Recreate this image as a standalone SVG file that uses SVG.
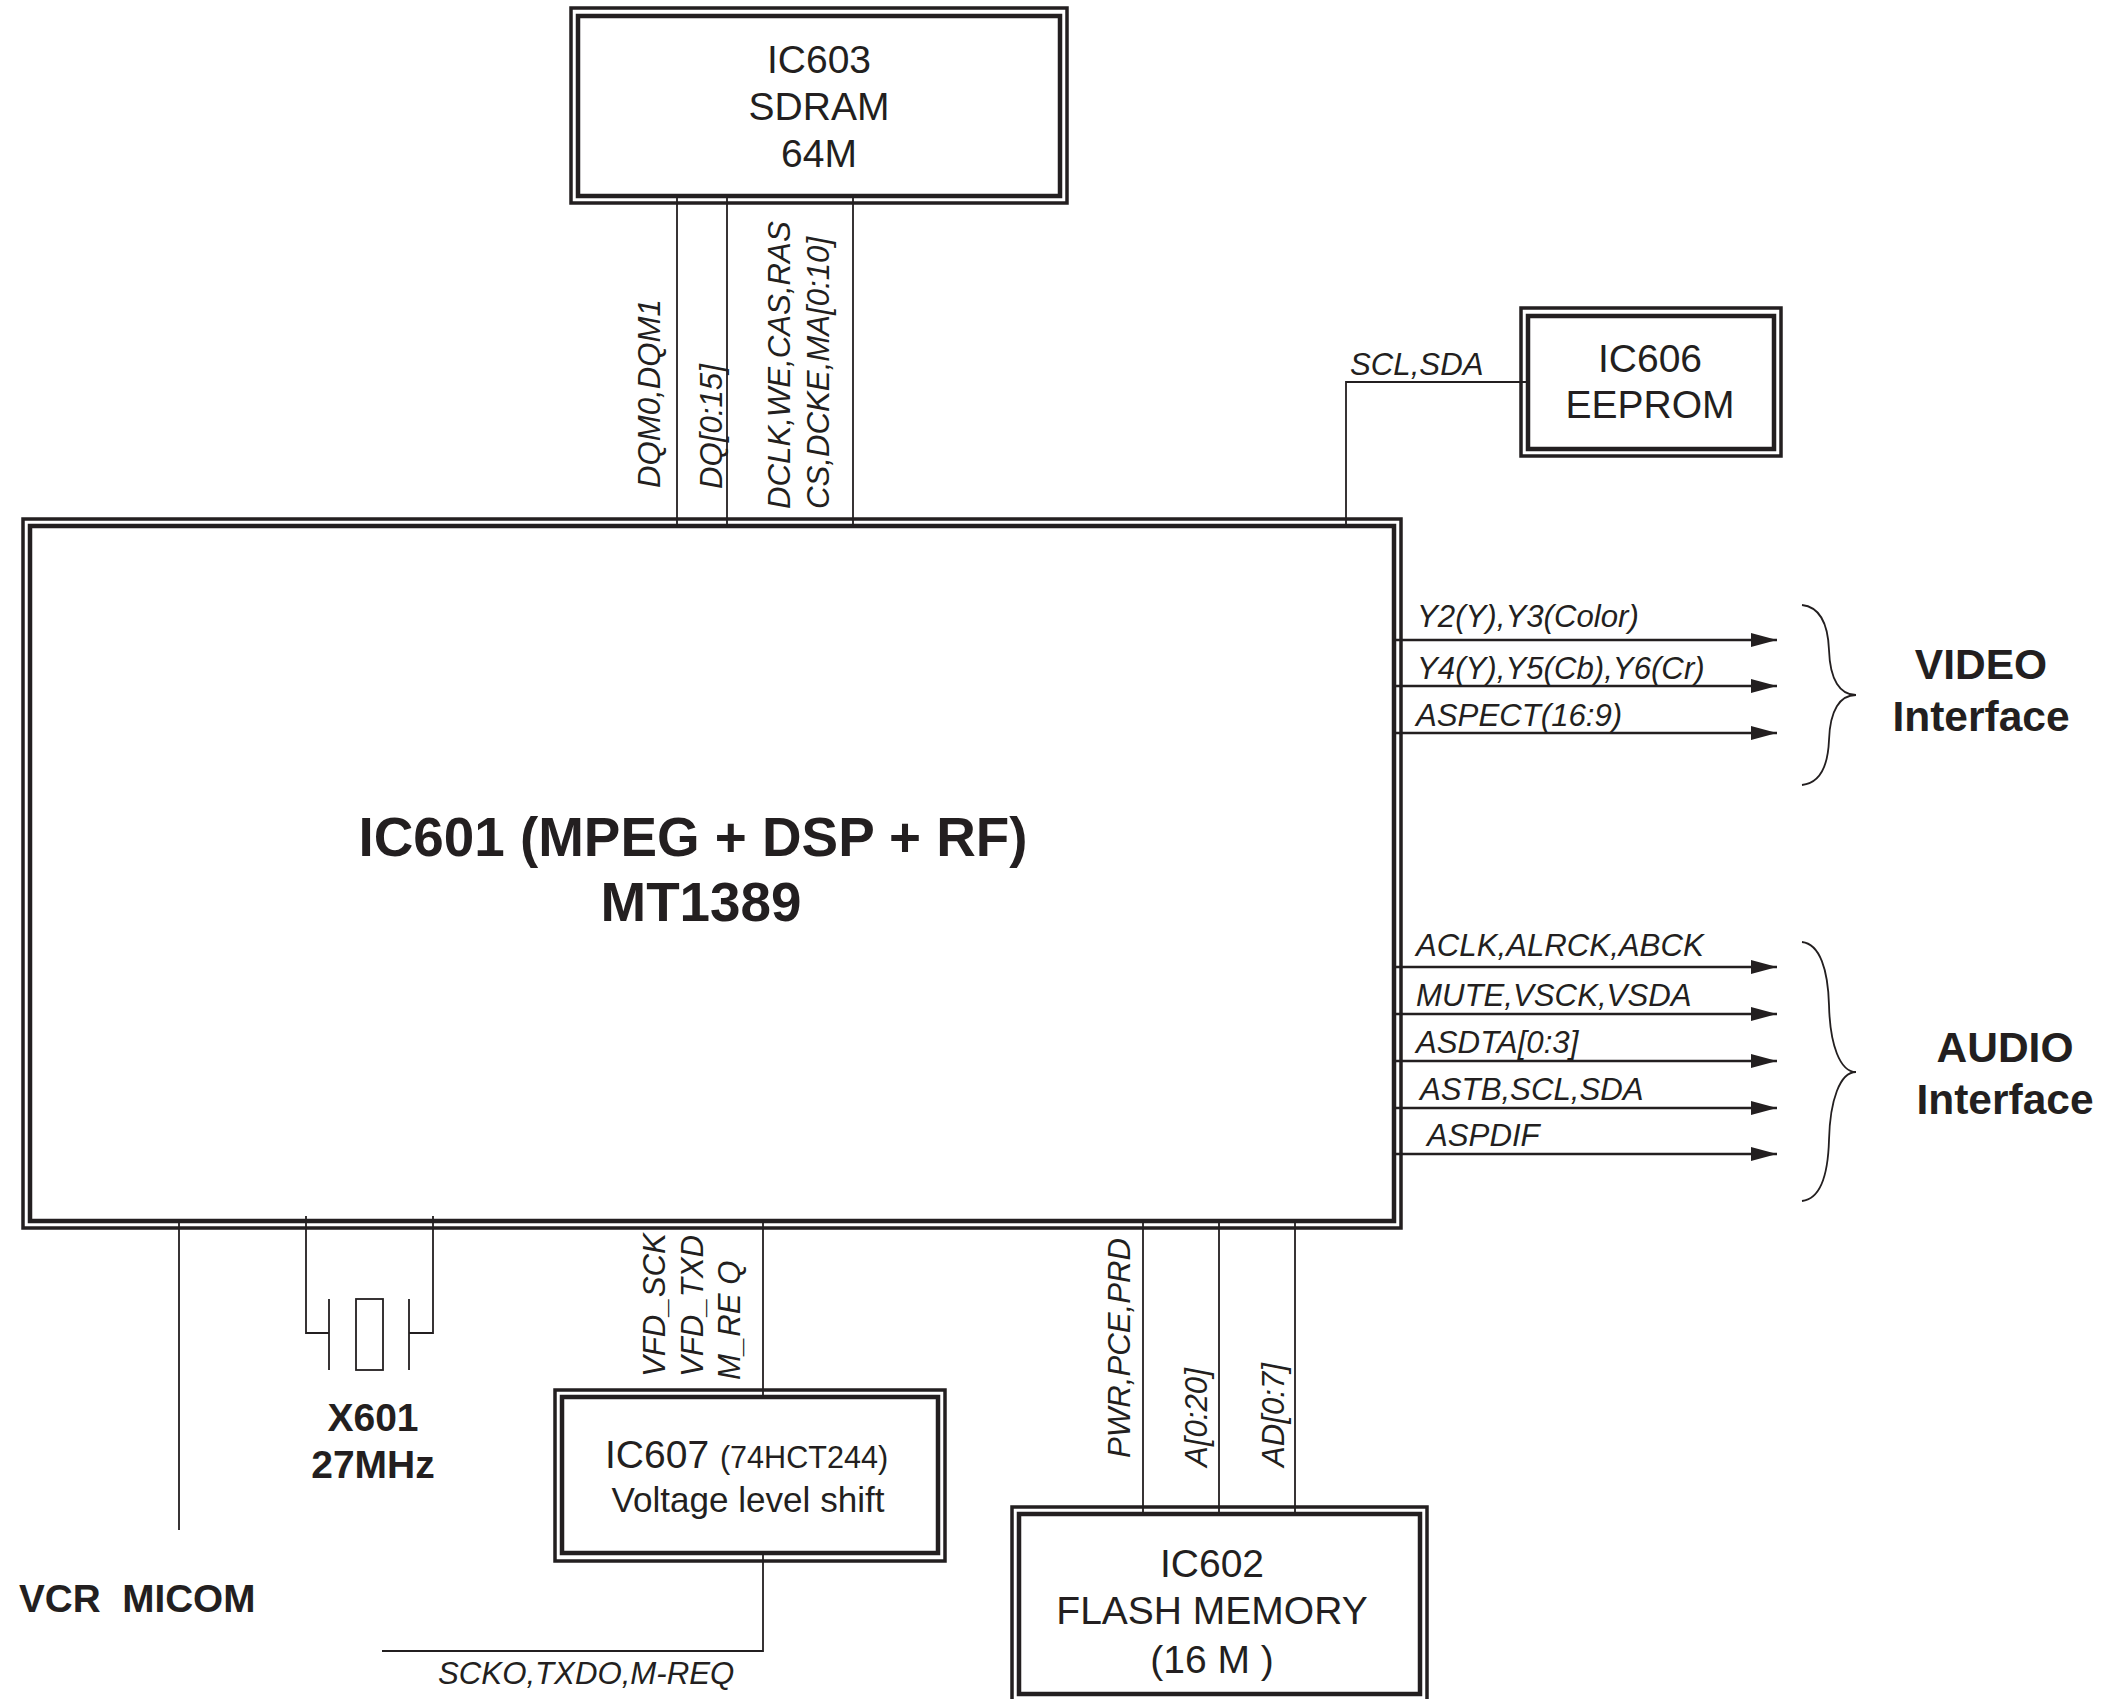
<svg xmlns="http://www.w3.org/2000/svg" width="2107" height="1699" viewBox="0 0 2107 1699">
<defs>
<marker id="arrow" markerUnits="userSpaceOnUse" markerWidth="26" markerHeight="14" refX="26" refY="7" orient="auto"><path d="M0 0L26 7L0 14Z" fill="#231f20"/></marker>
</defs>
<style>
text{font-family:"Liberation Sans",Arial,sans-serif;fill:#231f20}
.o{fill:#fff;stroke:#231f20;stroke-width:3.5}
.i{fill:#fff;stroke:#231f20;stroke-width:4.5}
.c{fill:none;stroke:#231f20;stroke-width:1.8}
.a{fill:none;stroke:#231f20;stroke-width:2.5;marker-end:url(#arrow)}
.t{font-size:39px;text-anchor:middle}
.b{font-weight:bold;text-anchor:middle}
.s{font-size:31.2px;font-style:italic}
</style>
<rect width="2107" height="1699" fill="#fff"/>
<g id="IC603"><rect class="o" x="571" y="8" width="496" height="195"/><rect class="i" x="578" y="16" width="482" height="180"/>
<text class="t" x="819" y="73">IC603</text><text class="t" x="819" y="120">SDRAM</text><text class="t" x="819" y="167">64M</text></g>
<g id="IC606"><rect class="o" x="1521" y="308" width="260" height="148"/><rect class="i" x="1528" y="316" width="246" height="133"/>
<text class="t" x="1650" y="372">IC606</text><text class="t" x="1650" y="418">EEPROM</text></g>
<g id="IC601"><rect class="o" x="23" y="519" width="1378" height="709"/><rect class="i" x="30" y="526" width="1364" height="695"/>
<text class="b" font-size="54.8" x="693" y="856">IC601 (MPEG + DSP + RF)</text><text class="b" font-size="54.8" x="701" y="921">MT1389</text></g>
<g id="IC607"><rect class="o" x="555" y="1390" width="390" height="171"/><rect class="i" x="562" y="1397" width="376" height="156"/>
<text x="605" y="1468" font-size="39">IC607 <tspan font-size="30.6">(74HCT244)</tspan></text>
<text x="748" y="1512" font-size="35.1" text-anchor="middle">Voltage level shift</text></g>
<g id="IC602"><rect class="o" x="1012" y="1507" width="415" height="200"/><rect class="i" x="1019" y="1514" width="401" height="180"/>
<text class="t" x="1212" y="1577">IC602</text><text class="t" x="1212" y="1624">FLASH MEMORY</text><text class="t" x="1212" y="1673">(16 M )</text></g>
<g id="X601"><path class="c" d="M329 1299V1370M409 1299V1370"/><rect class="c" x="356" y="1299" width="27" height="71"/>
<text class="b" font-size="39" x="373" y="1431">X601</text><text class="b" font-size="39" x="373" y="1478">27MHz</text></g>
<g id="VCR-MICOM"><text class="b" font-size="38.7" x="19" y="1612" style="text-anchor:start" xml:space="preserve">VCR  MICOM</text></g>
<g id="VIDEO-Interface"><path class="c" d="M1802 605C1820 607 1828 625 1829 650C1830 680 1840 695 1856 695C1840 695 1830 710 1829 740C1828 765 1820 783 1802 785"/>
<text class="b" font-size="42.5" x="1981" y="679">VIDEO</text><text class="b" font-size="42.5" x="1981" y="731">Interface</text></g>
<g id="AUDIO-Interface"><path class="c" d="M1802 942C1820 944 1828 970 1829 1005C1830 1045 1840 1072 1856 1072C1840 1072 1830 1100 1829 1140C1828 1175 1820 1199 1802 1201"/>
<text class="b" font-size="42.5" x="2005" y="1062">AUDIO</text><text class="b" font-size="42.5" x="2005" y="1114">Interface</text></g>
<g id="connectors">
<path class="c" d="M677 196V527M727 196V527M853 196V527"/>
<path class="c" d="M1528 382H1346V525"/>
<path class="c" d="M179 1221V1530"/>
<path class="c" d="M306 1216V1333H329M433 1216V1333H409"/>
<path class="c" d="M763 1221V1397M763 1553V1651H382"/>
<path class="c" d="M1143 1221V1514M1219 1221V1514M1295 1221V1514"/>
<path class="a" d="M1394 640H1777"/><path class="a" d="M1394 686H1777"/><path class="a" d="M1394 733H1777"/>
<path class="a" d="M1394 967H1777"/><path class="a" d="M1394 1014H1777"/><path class="a" d="M1394 1061H1777"/><path class="a" d="M1394 1108H1777"/><path class="a" d="M1394 1154H1777"/>
<text class="s" transform="translate(660 488) rotate(-90)">DQM0,DQM1</text>
<text class="s" transform="translate(722 489) rotate(-90)">DQ[0:15]</text>
<text class="s" transform="translate(790 509) rotate(-90)">DCLK,WE,CAS,RAS</text>
<text class="s" transform="translate(829 509) rotate(-90)">CS,DCKE,MA[0:10]</text>
<text class="s" x="1350" y="375">SCL,SDA</text>
<text class="s" x="1417" y="627">Y2(Y),Y3(Color)</text>
<text class="s" x="1417" y="679">Y4(Y),Y5(Cb),Y6(Cr)</text>
<text class="s" x="1416" y="726">ASPECT(16:9)</text>
<text class="s" x="1416" y="956">ACLK,ALRCK,ABCK</text>
<text class="s" x="1416" y="1006">MUTE,VSCK,VSDA</text>
<text class="s" x="1416" y="1053">ASDTA[0:3]</text>
<text class="s" x="1420" y="1100">ASTB,SCL,SDA</text>
<text class="s" x="1427" y="1146">ASPDIF</text>
<text class="s" transform="translate(665 1377) rotate(-90)">VFD_SCK</text>
<text class="s" transform="translate(703 1377) rotate(-90)">VFD_TXD</text>
<text class="s" transform="translate(740 1380) rotate(-90)" xml:space="preserve">M_RE Q</text>
<text class="s" transform="translate(1130 1458) rotate(-90)">PWR,PCE,PRD</text>
<text class="s" transform="translate(1207 1467) rotate(-90)">A[0:20]</text>
<text class="s" transform="translate(1284 1467) rotate(-90)">AD[0:7]</text>
<text class="s" x="438" y="1684">SCKO,TXDO,M-REQ</text>
</g>
</svg>
